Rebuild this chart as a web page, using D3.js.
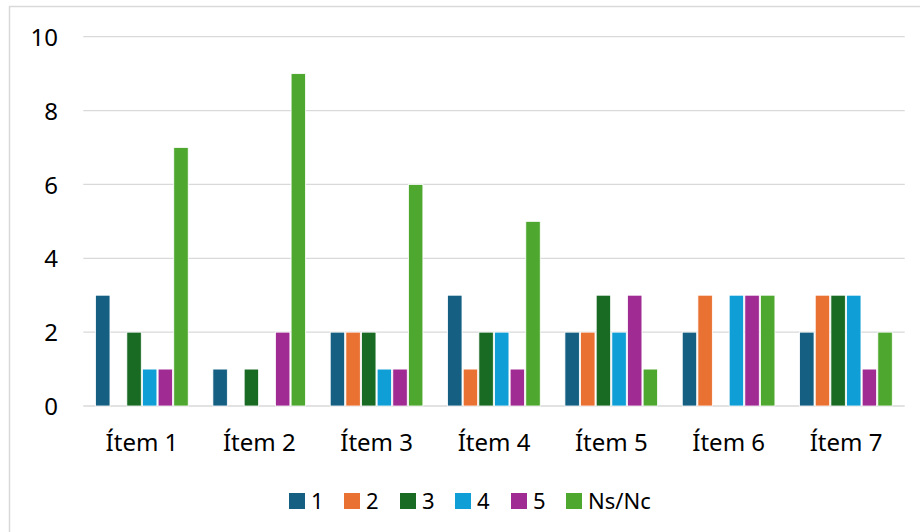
<!DOCTYPE html>
<html><head><meta charset="utf-8">
<script src="https://cdn.jsdelivr.net/npm/d3@7"></script>
<style>html,body{margin:0;padding:0;background:#fff;overflow:hidden}svg{display:block}</style>
</head><body>
<script>
const categories = ["Ítem 1","Ítem 2","Ítem 3","Ítem 4","Ítem 5","Ítem 6","Ítem 7"];
const seriesNames = ["1","2","3","4","5","Ns/Nc"];
const s1 = [3,1,2,3,2,2,2];
const s2 = [0,0,2,1,2,3,3];
const s3 = [2,1,2,2,3,0,3];
const s4 = [1,0,1,2,2,3,3];
const s5 = [1,2,1,1,3,3,1];
const sNs = [7,9,6,5,1,3,2];
const yTicks = [0,2,4,6,8,10];
const colors = ["#156082","#E97132","#196B24","#0F9ED5","#A02B93","#4EA72E"];
const seriesValues = [s1,s2,s3,s4,s5,sNs];

const W = 920, H = 532;
const font = "'Noto Sans', 'Liberation Sans', Arial, sans-serif";
const svg = d3.select("body").append("svg").attr("width", W).attr("height", H);
svg.append("rect").attr("x",9.5).attr("y",6.5).attr("width",W+20).attr("height",H+20)
  .attr("fill","#fff").attr("stroke","#d9d9d9").attr("stroke-width",1.5);

const left = 83.3, right = 904.7, y0 = 406, yTop = 36.7;
const x0 = d3.scaleBand().domain(categories).range([left,right]).paddingInner(0.2).paddingOuter(0.1);
const x1 = d3.scaleBand().domain(seriesNames).range([0,x0.bandwidth()]).padding(0);
const y = d3.scaleLinear().domain([0,10]).range([y0,yTop]);

// gridlines
svg.append("g").selectAll("line").data(yTicks).join("line")
  .attr("x1",left).attr("x2",right).attr("y1",d=>y(d)).attr("y2",d=>y(d))
  .attr("stroke","#d9d9d9").attr("stroke-width",1.3);

// y labels
const yAxis = d3.axisLeft(y).tickValues(yTicks).tickSize(0).tickPadding(0).tickFormat(d3.format("d"));
const ga = svg.append("g").attr("transform","translate(58,0)").call(yAxis);
ga.select(".domain").remove();
ga.selectAll("text").attr("font-family",font).attr("font-size",24).attr("fill","#000").attr("dy","0.36em");

// bars
const groups = svg.append("g").selectAll("g").data(categories).join("g")
  .attr("transform",d=>`translate(${x0(d)},0)`);
groups.selectAll("rect").data((d,i)=>seriesNames.map((s,j)=>({s, j, v: seriesValues[j][i]})))
  .join("rect")
  .attr("x",d=>x1(d.s)+0.5).attr("width",x1.bandwidth()-1.2)
  .attr("y",d=>y(d.v)).attr("height",d=>y(0)-y(d.v))
  .attr("fill",d=>colors[d.j]).attr("stroke","#fff").attr("stroke-width",d=>d.v>0?0.8:0);

// x labels
const xAxis = d3.axisBottom(x0).tickSize(0).tickPadding(0);
const gx = svg.append("g").attr("transform",`translate(0,450.5)`).call(xAxis);
gx.select(".domain").remove();
gx.selectAll("text").attr("font-family",font).attr("font-size",24).attr("fill","#000").attr("dy","0");

// legend
const legX = [289,344,400,455,511,566];
const leg = svg.append("g").selectAll("g").data(seriesNames).join("g")
  .attr("transform",(d,i)=>`translate(${legX[i]},493)`);
leg.append("rect").attr("width",16).attr("height",16).attr("fill",(d,i)=>colors[i]);
leg.append("text").attr("x",22).attr("y",15.5).attr("font-family",font).attr("font-size",22).attr("fill","#000").text(d=>d);
</script>
</body></html>
